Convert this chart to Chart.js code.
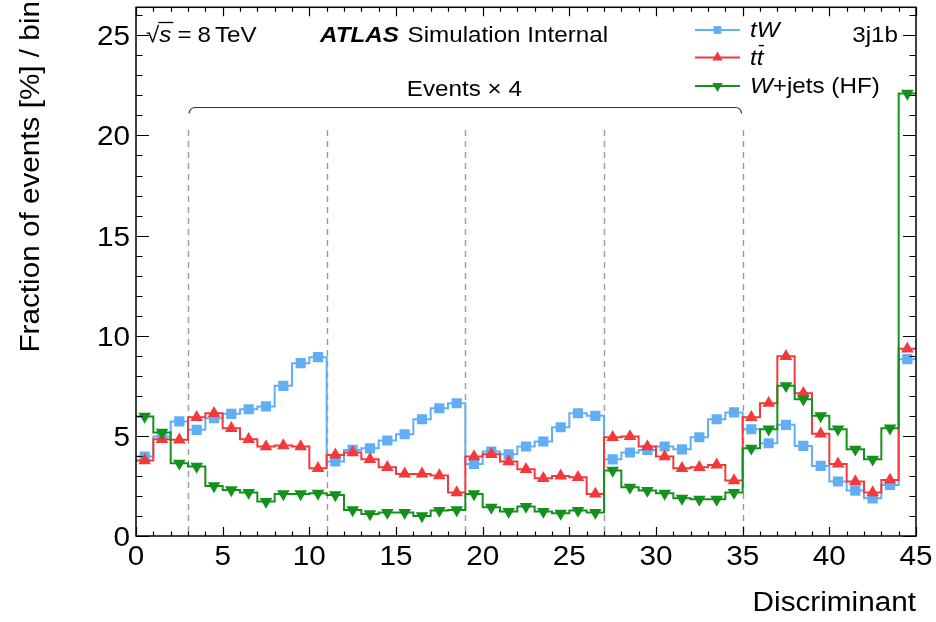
<!DOCTYPE html>
<html>
<head>
<meta charset="utf-8">
<script src="https://cdn.jsdelivr.net/npm/chart.js@4/dist/chart.umd.min.js"></script>
<style>
  html, body { margin: 0; padding: 0; background: #fff; }
  #wrap { width: 936px; height: 622px; }
</style>
</head>
<body>
<div id="wrap"><canvas id="c" width="936" height="622"></canvas></div>
<script>
// Bin edges of the discriminant (45 unit-wide bins)
const binEdges = [0, 1, 2, 3, 4, 5, 6, 7, 8, 9, 10, 11, 12, 13, 14, 15, 16, 17, 18, 19, 20, 21, 22,
  23, 24, 25, 26, 27, 28, 29, 30, 31, 32, 33, 34, 35, 36, 37, 38, 39, 40, 41, 42, 43, 44, 45];

// Fraction of events [%] per bin
const tW = [3.97, 4.97, 5.72, 5.30, 5.88, 6.10, 6.33, 6.47, 7.50, 8.63, 8.93,
  3.72, 4.30, 4.38, 4.77, 5.08, 5.83, 6.38, 6.63,
  3.60, 4.22, 4.08, 4.47, 4.72, 5.43, 6.13, 6.00,
  3.83, 4.17, 4.30, 4.47, 4.33, 4.93, 5.83, 6.17,
  5.33, 4.63, 5.55, 4.50, 3.50, 2.72, 2.27, 1.88, 2.55, 8.83];
const ttbar = [3.77, 4.83, 4.80, 5.93, 6.13, 5.38, 4.83, 4.47, 4.52, 4.47, 3.38,
  4.05, 4.17, 3.83, 3.43, 3.10, 3.10, 3.02, 2.17,
  3.97, 4.08, 3.72, 3.33, 2.88, 3.00, 2.93, 2.10,
  4.93, 4.97, 4.47, 3.97, 3.38, 3.43, 3.55, 2.77,
  5.93, 6.63, 8.97, 7.13, 5.10, 3.60, 2.72, 2.17, 2.80, 9.35];
const wjets = [5.97, 5.17, 3.63, 3.47, 2.50, 2.30, 2.17, 1.72, 2.10, 2.10, 2.13,
  2.05, 1.30, 1.10, 1.17, 1.17, 1.00, 1.27, 1.30,
  2.10, 1.43, 1.22, 1.47, 1.22, 1.13, 1.27, 1.17,
  3.27, 2.43, 2.27, 2.13, 1.88, 1.83, 1.83, 2.17,
  4.38, 5.33, 7.50, 6.83, 6.00, 5.33, 4.33, 3.83, 5.38, 22.10];

// Axis ticks and the boundaries of the "Events x 4" groups
const xTicks = [0, 5, 10, 15, 20, 25, 30, 35, 40, 45];
const yTicks = [0, 5, 10, 15, 20, 25];
const groupEdges = [3, 11, 19, 27, 35];
const xRange = [0, 45];
const yRange = [0, 26.4];

const FONT = '"Liberation Sans", Arial, Helvetica, sans-serif';
const SX = 1.1; // horizontal text stretch
const BLUE = '#62aef4';
const RED = '#f4393c';
const GREEN = '#14911b';

const series = [
  { name: 'tW', values: tW, color: BLUE, style: 'rect', radius: 7.2, rotation: 0, legendRadius: 5.5, order: 6 },
  { name: 'ttbar', values: ttbar, color: RED, style: 'triangle', radius: 7.3, rotation: 0, legendRadius: 6, order: 4 },
  { name: 'wjets', values: wjets, color: GREEN, style: 'triangle', radius: 7.3, rotation: 180, legendRadius: 6, order: 2 }
];

function stepPoints(vals) {
  const pts = vals.map((v, i) => ({ x: binEdges[i], y: v }));
  pts.push({ x: binEdges[vals.length], y: vals[vals.length - 1] });
  return pts;
}
function centrePoints(vals) {
  return vals.map((v, i) => ({ x: (binEdges[i] + binEdges[i + 1]) / 2, y: v }));
}

const datasets = [];
series.forEach(s => {
  datasets.push({
    label: s.name + ' outline', data: stepPoints(s.values), stepped: 'before',
    borderColor: s.color, borderWidth: 2, pointRadius: 0, fill: false, order: s.order
  });
  datasets.push({
    label: s.name, data: centrePoints(s.values), showLine: false,
    pointStyle: s.style, pointRadius: s.radius, pointRotation: s.rotation,
    pointBackgroundColor: s.color, pointBorderWidth: 0, pointHoverRadius: s.radius,
    order: s.order - 1
  });
});

function setFont(ctx, size, style) {
  ctx.font = (style || '') + ' ' + size + 'px ' + FONT;
}

// Text with a slight horizontal stretch; returns drawn width
function sText(ctx, text, x, y, align) {
  ctx.save();
  ctx.translate(x, y);
  ctx.scale(SX, 1);
  ctx.textAlign = align || 'left';
  ctx.fillText(text, 0, 0);
  ctx.restore();
  return ctx.measureText(text).width * SX;
}

// Draws a run of text pieces with mixed styles, returns end x
function drawRuns(ctx, runs, x, y, size) {
  runs.forEach(r => {
    setFont(ctx, size, r.style);
    const w = sText(ctx, r.t, x, y, 'left');
    if (r.bar) {
      ctx.save();
      ctx.lineWidth = 1.4;
      ctx.beginPath();
      ctx.moveTo(x + 2, y - size * 0.86);
      ctx.lineTo(x + w + 0.5, y - size * 0.86);
      ctx.stroke();
      ctx.restore();
    }
    x += w + (r.gap || 0);
  });
  return x;
}
function runsWidth(ctx, runs, size) {
  let w = 0;
  runs.forEach(r => { setFont(ctx, size, r.style); w += ctx.measureText(r.t).width * SX + (r.gap || 0); });
  return w;
}

const decorations = {
  id: 'decorations',
  beforeDatasetsDraw(chart) {
    const ctx = chart.ctx;
    const xs = chart.scales.x;
    const area = chart.chartArea;
    ctx.save();
    // dashed group separators
    ctx.strokeStyle = '#9a9a9a';
    ctx.lineWidth = 1.4;
    ctx.setLineDash([6, 5]);
    groupEdges.forEach(e => {
      const px = Math.round(xs.getPixelForValue(e)) + 0.5;
      ctx.beginPath();
      ctx.moveTo(px, 130);
      ctx.lineTo(px, area.bottom);
      ctx.stroke();
    });
    ctx.setLineDash([]);
    // bracket over the scaled region
    const x0 = xs.getPixelForValue(groupEdges[0]);
    const x1 = xs.getPixelForValue(groupEdges[groupEdges.length - 1]);
    const by = 107.5;
    ctx.strokeStyle = '#333';
    ctx.lineWidth = 1.2;
    ctx.beginPath();
    ctx.moveTo(x0 + 1, by + 6);
    ctx.quadraticCurveTo(x0 + 2, by, x0 + 7, by);
    ctx.lineTo(x1 - 7, by);
    ctx.quadraticCurveTo(x1 - 2, by, x1 - 1, by + 6);
    ctx.stroke();
    ctx.restore();
  },
  afterDraw(chart) {
    const ctx = chart.ctx;
    const xs = chart.scales.x, ys = chart.scales.y;
    const a = chart.chartArea;
    ctx.save();
    // frame
    ctx.strokeStyle = '#000';
    ctx.lineWidth = 1.5;
    ctx.strokeRect(a.left, a.top, a.right - a.left, a.bottom - a.top);
    // inward ticks on all four sides
    ctx.lineWidth = 1.2;
    ctx.beginPath();
    for (let v = xRange[0]; v <= xRange[1]; v++) {
      const px = Math.round(xs.getPixelForValue(v)) + 0.5;
      const len = v % 5 === 0 ? 9 : 4.5;
      ctx.moveTo(px, a.bottom); ctx.lineTo(px, a.bottom - len);
      ctx.moveTo(px, a.top); ctx.lineTo(px, a.top + len);
    }
    for (let v = 0; v <= Math.floor(yRange[1]); v++) {
      const py = Math.round(ys.getPixelForValue(v)) + 0.5;
      const len = v % 5 === 0 ? 13 : 6.5;
      ctx.moveTo(a.left, py); ctx.lineTo(a.left + len, py);
      ctx.moveTo(a.right, py); ctx.lineTo(a.right - len, py);
    }
    ctx.stroke();

    ctx.fillStyle = '#000';
    ctx.strokeStyle = '#000';
    ctx.textBaseline = 'alphabetic';

    // tick labels from the scales
    setFont(ctx, 27, '');
    xs.ticks.forEach(t => {
      sText(ctx, t.label !== undefined ? String(t.label) : String(t.value), xs.getPixelForValue(t.value), 565, 'center');
    });
    ys.ticks.forEach(t => {
      sText(ctx, t.label !== undefined ? String(t.label) : String(t.value), 130, ys.getPixelForValue(t.value) + 10, 'right');
    });

    // sqrt(s) = 8 TeV
    setFont(ctx, 22, '');
    const sx = 146, sy = 42;
    const rw = sText(ctx, '\u221A', sx, sy, 'left');
    setFont(ctx, 22, 'italic');
    const sw = sText(ctx, 's', sx + rw, sy, 'left');
    ctx.lineWidth = 1.3;
    ctx.beginPath();
    ctx.moveTo(sx + rw - 1, sy - 19.5);
    ctx.lineTo(sx + rw + sw + 2, sy - 19.5);
    ctx.stroke();
    setFont(ctx, 22, '');
    let cx = sx + rw + sw + 6;
    cx += sText(ctx, '=', cx, sy, 'left') + 6;
    cx += sText(ctx, '8', cx, sy, 'left') + 4;
    sText(ctx, 'TeV', cx, sy, 'left');

    // ATLAS label
    drawRuns(ctx, [{ t: 'ATLAS', style: 'italic bold', gap: 2 }, { t: ' Simulation Internal', style: '' }], 320, 42, 22);

    // channel label
    setFont(ctx, 22, '');
    sText(ctx, '3j1b', 898, 42, 'right');

    // Events x 4
    setFont(ctx, 22, '');
    sText(ctx, 'Events \u00D7 4', (xs.getPixelForValue(groupEdges[0]) + xs.getPixelForValue(groupEdges[4])) / 2 - 1, 96, 'center');

    // legend
    const legendRows = [
      { s: series[0], y: 30, runs: [{ t: 'tW', style: 'italic' }] },
      { s: series[1], y: 57.5, runs: [{ t: 't', style: 'italic' }, { t: 't', style: 'italic', bar: true }] },
      { s: series[2], y: 86, runs: [{ t: 'W', style: 'italic' }, { t: '+jets (HF)', style: '' }] }
    ];
    legendRows.forEach(row => {
      ctx.strokeStyle = row.s.color;
      ctx.fillStyle = row.s.color;
      ctx.lineWidth = 2;
      ctx.beginPath();
      ctx.moveTo(695, row.y); ctx.lineTo(740, row.y);
      ctx.stroke();
      Chart.helpers.drawPoint(ctx, { pointStyle: row.s.style, rotation: row.s.rotation, radius: row.s.legendRadius, borderWidth: 0 }, 717.5, row.y);
      ctx.fillStyle = '#000';
      ctx.strokeStyle = '#000';
      drawRuns(ctx, row.runs, 750, row.y + 7, 22);
    });

    // axis titles
    setFont(ctx, 27, '');
    ctx.fillStyle = '#000';
    sText(ctx, 'Discriminant', a.right, 611, 'right');
    ctx.save();
    ctx.translate(39, 1);
    ctx.rotate(-Math.PI / 2);
    sText(ctx, 'Fraction of events [%] / bin', 0, 0, 'right');
    ctx.restore();
    ctx.restore();
  }
};

new Chart(document.getElementById('c'), {
  type: 'line',
  data: { datasets },
  options: {
    responsive: false,
    animation: false,
    devicePixelRatio: 1,
    layout: { padding: { left: 0, right: 20, top: 7, bottom: 0 } },
    plugins: { legend: { display: false }, tooltip: { enabled: false } },
    elements: { line: { tension: 0 } },
    scales: {
      x: {
        type: 'linear', min: xRange[0], max: xRange[1],
        afterBuildTicks: s => { s.ticks = xTicks.map(v => ({ value: v })); },
        afterFit: s => { s.height = 86; s.paddingLeft = 0; s.paddingRight = 0; },
        grid: { display: false, drawTicks: false },
        border: { display: false },
        ticks: { display: false, autoSkip: false, maxRotation: 0 }
      },
      y: {
        type: 'linear', min: yRange[0], max: yRange[1],
        afterBuildTicks: s => { s.ticks = yTicks.map(v => ({ value: v })); },
        afterFit: s => { s.width = 136; s.paddingTop = 0; s.paddingBottom = 0; },
        grid: { display: false, drawTicks: false },
        border: { display: false },
        ticks: { display: false }
      }
    }
  },
  plugins: [decorations]
});
</script>
</body>
</html>
